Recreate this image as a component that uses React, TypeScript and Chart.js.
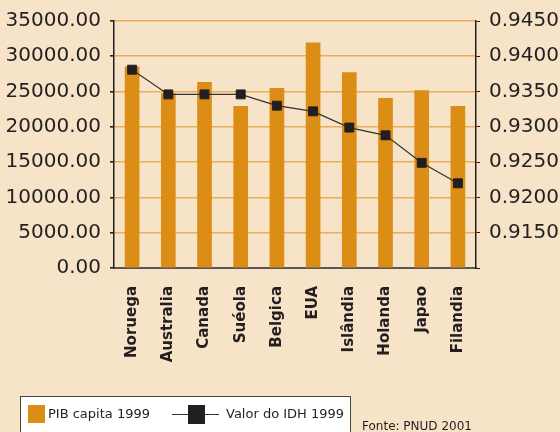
import React, { useEffect, useRef } from 'react';
import { Chart, registerables } from 'chart.js';

Chart.register(...registerables);

const categories = ['Noruega', 'Australia', 'Canada', 'Suéola', 'Belgica', 'EUA', 'Islândia', 'Holanda', 'Japao', 'Filandia'];
const pibValues = [28500, 24700, 26300, 22900, 25450, 31900, 27700, 24050, 25150, 22900];
const idhValues = [0.9381, 0.9346, 0.9346, 0.9346, 0.933, 0.9322, 0.9299, 0.9288, 0.9249, 0.922];
const pibLabel = 'PIB capita 1999';
const idhLabel = 'Valor do IDH 1999';
const sourceText = 'Fonte: PNUD 2001';

const BG = '#f7e3c7';
const BAR = '#dc8d15';
const GRID = '#e9ae5c';
const INK = '#231f20';
const FONT = '"DejaVu Sans", sans-serif';

export default function App() {
  const ref = useRef<HTMLCanvasElement>(null);

  useEffect(() => {
    if (!ref.current) return;
    const chart = new Chart(ref.current, {
      type: 'bar',
      data: {
        labels: categories,
        datasets: [
          {
            type: 'line',
            label: idhLabel,
            data: idhValues,
            yAxisID: 'y1',
            borderColor: '#333333',
            borderWidth: 1.2,
            pointStyle: 'rect',
            pointRadius: 6.3,
            pointBackgroundColor: INK,
            pointBorderColor: INK,
            pointBorderWidth: 1,
            order: 0,
          } as any,
          {
            type: 'bar',
            label: pibLabel,
            data: pibValues,
            yAxisID: 'y',
            backgroundColor: BAR,
            barThickness: 14,
            order: 1,
          },
        ],
      },
      options: {
        responsive: false,
        animation: false,
        layout: { padding: { top: 19, left: 0, right: 0, bottom: 0 } },
        plugins: { legend: { display: false }, tooltip: { enabled: false } },
        scales: {
          x: {
            grid: { display: false },
            border: { display: true, color: '#5a5656', width: 2 },
            ticks: {
              autoSkip: false,
              minRotation: 90,
              maxRotation: 90,
              padding: 10,
              color: INK,
              font: { family: FONT, size: 15, weight: 'bold' },
            },
            afterFit: (s: any) => { s.height = 164; },
          },
          y: {
            position: 'left',
            min: 0,
            max: 35000,
            ticks: {
              stepSize: 5000,
              padding: 9,
              color: INK,
              font: { family: FONT, size: 20 },
              callback: (v: any) => Number(v).toFixed(2),
            },
            grid: { color: GRID, lineWidth: 1.6, tickColor: INK, tickLength: 4 },
            border: { display: true, color: INK, width: 1.5 },
            afterFit: (s: any) => { s.width = 114; },
          },
          y1: {
            position: 'right',
            min: 0.91,
            max: 0.945,
            ticks: {
              stepSize: 0.005,
              padding: 9,
              color: INK,
              font: { family: FONT, size: 20 },
              callback: (v: any) => (Math.abs(Number(v) - 0.91) < 1e-6 ? '' : Number(v).toFixed(4)),
            },
            grid: { drawOnChartArea: false, tickColor: INK, tickLength: 4 },
            border: { display: true, color: INK, width: 1.5 },
            afterFit: (s: any) => { s.width = 84; },
          },
        },
      },
    });
    return () => chart.destroy();
  }, []);

  return (
    <div style={{ position: 'fixed', left: 0, top: 0, width: 560, height: 432, background: BG, overflow: 'hidden' }}>
      <canvas ref={ref} width={560} height={432} style={{ position: 'absolute', left: 0, top: 0 }} />
      <div
        style={{
          position: 'absolute', left: 20, top: 396, width: 331, height: 40,
          background: '#ffffff', border: '1px solid #4a4646', boxSizing: 'border-box',
          fontFamily: FONT, fontSize: 13, color: INK,
        }}
      >
        <div style={{ position: 'absolute', left: 7, top: 8, width: 17, height: 18, background: BAR }} />
        <div style={{ position: 'absolute', left: 27, top: 8, lineHeight: '18px', whiteSpace: 'nowrap' }}>{pibLabel}</div>
        <div style={{ position: 'absolute', left: 151, top: 17, width: 47, height: 1, background: '#333' }} />
        <div style={{ position: 'absolute', left: 167, top: 8, width: 17, height: 19, background: INK }} />
        <div style={{ position: 'absolute', left: 205, top: 8, lineHeight: '18px', whiteSpace: 'nowrap' }}>{idhLabel}</div>
      </div>
      <div style={{ position: 'absolute', left: 362, top: 419, fontFamily: FONT, fontSize: 12, color: INK, whiteSpace: 'nowrap' }}>
        {sourceText}
      </div>
    </div>
  );
}
